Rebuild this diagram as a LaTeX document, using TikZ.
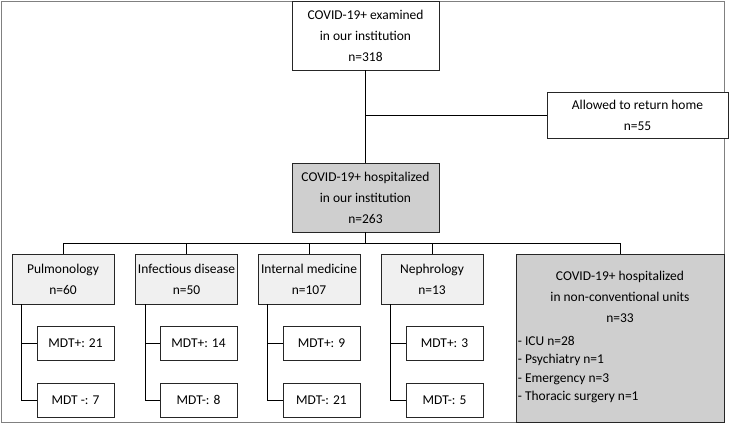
\documentclass[tikz,border=0pt]{standalone}
\usepackage{fontspec}
\setmainfont{Carlito}
\begin{document}
\begin{tikzpicture}
        [x=0.03cm, y=-0.03cm, line width=0.7pt,
        box/.style={rectangle, draw=black!85, inner sep=0pt, align=center, font=\fontsize{11.5}{17.9}\selectfont},
        whiteBox/.style={box, fill=white, minimum width=4.41cm, minimum height=2.07cm},
        grayBox/.style={box, fill=gray!38, minimum width=4.41cm, minimum height=2.07cm},
        deptBox/.style={box, fill=gray!12, minimum width=3.06cm, minimum height=1.5cm},
        mdtBox/.style={box, fill=white, minimum width=2.31cm, minimum height=1.02cm},
        link/.style={draw=black}]
        \useasboundingbox (0,0) rectangle (731,424);
        \draw[gray] (1,1) rectangle (724,422);

        \node[whiteBox] (exam) at (365.5,35.5) {COVID-19+ examined\\in our institution\\n=318};
        \node[box, fill=white, minimum width=5.43cm, minimum height=1.38cm] (home) at (637.5,115) {Allowed to return home\\n=55};
        \node[grayBox] (hosp) at (365.5,197.5) {COVID-19+ hospitalized\\in our institution\\n=263};
        \coordinate (split) at (365.5,243);

        \node[deptBox] (pulm) at (63,279) {Pulmonology\\n=60};
        \node[deptBox] (infe) at (186.5,279) {Infectious disease\\n=50};
        \node[deptBox] (intm) at (309,279) {Internal medicine\\n=107};
        \node[deptBox] (neph) at (432,279) {Nephrology\\n=13};
        \node[box, fill=gray!38, minimum width=6.24cm, minimum height=5.04cm] (nonc) at (620,338) {};
        \node[align=center, inner sep=0pt, font=\fontsize{11.5}{17.9}\selectfont] (noncHead) at (620,297) {COVID-19+ hospitalized\\in non-conventional\ units\\n=33};
        \node[anchor=west, align=left, inner sep=0pt, font=\fontsize{11.5}{15.6}\selectfont] (noncList) at (517.5,369.5) {- ICU n=28\\- Psychiatry n=1\\- Emergency n=3\\- Thoracic surgery n=1};

        \node[mdtBox] (pulmP) at (75.5,343) {MDT+: 21};
        \node[mdtBox] (pulmM) at (75.5,400) {MDT -: 7};
        \node[mdtBox] (infeP) at (198.5,343) {MDT+: 14};
        \node[mdtBox] (infeM) at (198.5,400) {MDT-: 8};
        \node[mdtBox] (intmP) at (321.5,343) {MDT+: 9};
        \node[mdtBox] (intmM) at (321.5,400) {MDT-: 21};
        \node[mdtBox] (nephP) at (444.5,343) {MDT+: 3};
        \node[mdtBox] (nephM) at (444.5,400) {MDT-: 5};

        \draw[link] (exam) -- (hosp);
        \draw[link] (home.west) -| (exam.south);
        \draw[link] (hosp) -- (split);
        \draw[link] (pulm.north) |- (split);
        \draw[link] (infe.north) |- (split);
        \draw[link] (intm.north) |- (split);
        \draw[link] (neph.north) |- (split);
        \draw[link] (nonc.north) |- (split);

        \draw[link] ([xshift=0.3cm]pulm.south west) |- (pulmP.west);
        \draw[link] ([xshift=0.3cm]pulm.south west) |- (pulmM.west);
        \draw[link] ([xshift=0.3cm]infe.south west) |- (infeP.west);
        \draw[link] ([xshift=0.3cm]infe.south west) |- (infeM.west);
        \draw[link] ([xshift=0.3cm]intm.south west) |- (intmP.west);
        \draw[link] ([xshift=0.3cm]intm.south west) |- (intmM.west);
        \draw[link] ([xshift=0.3cm]neph.south west) |- (nephP.west);
        \draw[link] ([xshift=0.3cm]neph.south west) |- (nephM.west);

    \end{tikzpicture}
\end{document}
